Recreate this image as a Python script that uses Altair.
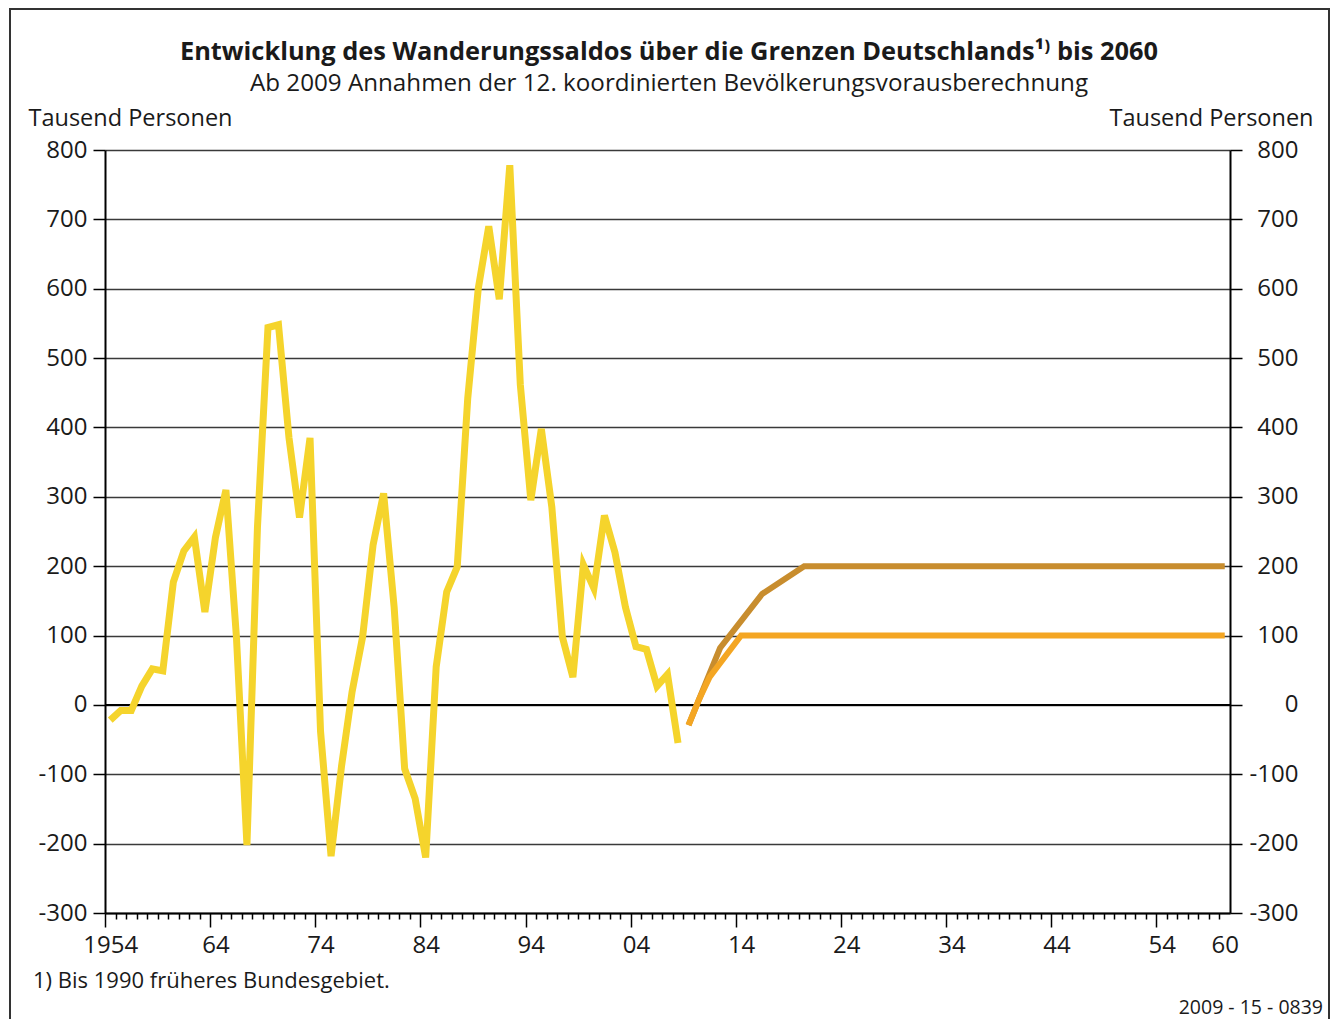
import altair as alt
import pandas as pd

# ---------------- data ----------------
hist_years = list(range(1954, 2009))
hist_values = [-22, -8, -8, 27, 52, 49, 177, 222, 242, 134, 241, 310, 98, -202,
               256, 544, 548, 385, 270, 385, -38, -218, -88, 19, 98, 231, 305,
               141, -92, -135, -220, 55, 163, 199, 442, 600, 690, 585, 778, 462,
               295, 398, 285, 98, 40, 202, 168, 273, 220, 141, 84, 80, 27, 44, -55]

w1_years = [2009, 2010, 2011, 2012, 2014, 2060]
w1_values = [-29, 8, 40, 60, 100, 100]

w2_years = [2009, 2010, 2011, 2012, 2016, 2020, 2060]
w2_values = [-29, 8, 45, 82, 160, 200, 200]

y_ticks = [-300, -200, -100, 0, 100, 200, 300, 400, 500, 600, 700, 800]
x_tick_years = list(range(1954, 2061))
x_major_years = [1954, 1964, 1974, 1984, 1994, 2004, 2014, 2024, 2034, 2044, 2054]
x_label_years = [1954, 1964, 1974, 1984, 1994, 2004, 2014, 2024, 2034, 2044, 2054, 2060]
x_label_texts = ["1954", "64", "74", "84", "94", "04", "14", "24", "34", "44", "54", "60"]

title_text = "Entwicklung des Wanderungssaldos über die Grenzen Deutschlands¹⁾ bis 2060"
subtitle_text = "Ab 2009 Annahmen der 12. koordinierten Bevölkerungsvorausberechnung"
axis_title = "Tausend Personen"
footnote_text = "1) Bis 1990 früheres Bundesgebiet."
code_text = "2009 - 15 - 0839"

YELLOW = "#F5D42C"
ORANGE = "#F4A623"
BROWN = "#C88D2E"
TEXT = "#1a1a1a"
FONT = "Open Sans"

# ---------------- layout ----------------
W, H = 1125, 763
half_band = W / 107 / 2

hist_df = pd.DataFrame({"year": hist_years, "value": hist_values})
w1_df = pd.DataFrame({"year": w1_years, "value": w1_values})
w2_df = pd.DataFrame({"year": w2_years, "value": w2_values})

label_expr = ""
for yr, txt in zip(x_label_years, x_label_texts):
    label_expr += f"datum.value == {yr} ? '{txt}' : "
label_expr += "''"
major_test = "indexof([" + ",".join(str(v) for v in x_major_years) + "], datum.value) >= 0"

x_axis = alt.Axis(
    values=x_tick_years,
    labelExpr=label_expr,
    tickOffset=-half_band,
    labelOffset=half_band,
    tickSize={"condition": {"test": major_test, "value": 14}, "value": 6},
    labelPadding={"condition": {"test": "datum.value == 2060", "value": 14}, "value": 6},
    tickColor="black",
    tickWidth=1.5,
    domainColor="black",
    domainWidth=2,
    labelFontSize=24,
    labelOverlap=False,
    labelFlush=False,
    grid=False,
    title=None,
)
x_enc = alt.X("year:Q", scale=alt.Scale(domain=[1953.5, 2060.5], nice=False, zero=False), axis=x_axis)

y_scale = alt.Scale(domain=[-300, 800], nice=False, zero=False)

left_axis = alt.Axis(
    values=y_ticks, grid=True, gridColor="#3a3a3a", gridWidth=1.4,
    labelExpr="toString(datum.value)",
    tickSize=12, tickColor="black", tickWidth=1.5,
    domainColor="black", domainWidth=2,
    labelFontSize=24, labelPadding=6,
    title=axis_title, titleAngle=0, titleAlign="left", titleBaseline="middle",
    titleX=-77, titleY=-32, titleFontSize=23.5, titleFontWeight="normal",
)
right_axis = alt.Axis(
    orient="right", values=y_ticks, grid=False,
    labelExpr="toString(datum.value)",
    tickSize=12, tickColor="black", tickWidth=1.5,
    domainColor="black", domainWidth=2,
    labelFontSize=24, labelPadding=56, labelAlign="right",
    title=axis_title, titleAngle=0, titleAlign="right", titleBaseline="middle",
    titleX=83, titleY=-32, titleFontSize=23.5, titleFontWeight="normal",
)

zero = alt.Chart(pd.DataFrame({"v": [0]})).mark_rule(color="black", strokeWidth=2).encode(
    y=alt.Y("v:Q", scale=y_scale, axis=None)
)

w2_line = alt.Chart(w2_df).mark_line(color=BROWN, strokeWidth=6, strokeJoin="miter").encode(
    x=x_enc, y=alt.Y("value:Q", scale=y_scale, axis=None)
)
w1_line = alt.Chart(w1_df).mark_line(color=ORANGE, strokeWidth=6, strokeJoin="miter").encode(
    x=x_enc, y=alt.Y("value:Q", scale=y_scale, axis=right_axis)
)
hist_line = alt.Chart(hist_df).mark_line(color=YELLOW, strokeWidth=7, strokeJoin="miter").encode(
    x=x_enc, y=alt.Y("value:Q", scale=y_scale, axis=left_axis)
)

one = alt.Data(values=[{}])
frame = alt.Chart(one).mark_rect(fillOpacity=0, stroke="#333333", strokeWidth=2).encode(
    x=alt.value(-95), x2=alt.value(1224), y=alt.value(-141), y2=alt.value(1000)
)
title = alt.Chart(one).mark_text(align="center", baseline="alphabetic", fontSize=25.4,
                                 fontWeight="bold", font=FONT, color=TEXT).encode(
    x=alt.value(564), y=alt.value(-90), text=alt.value(title_text)
)
subtitle = alt.Chart(one).mark_text(align="center", baseline="alphabetic", fontSize=24.2,
                                    font=FONT, color=TEXT).encode(
    x=alt.value(564), y=alt.value(-59), text=alt.value(subtitle_text)
)
footnote = alt.Chart(one).mark_text(align="left", baseline="middle", fontSize=22, font=FONT, color=TEXT).encode(
    x=alt.value(-72), y=alt.value(831), text=alt.value(footnote_text)
)
code = alt.Chart(one).mark_text(align="right", baseline="middle", fontSize=19.5, font=FONT, color=TEXT).encode(
    x=alt.value(1218), y=alt.value(858), text=alt.value(code_text)
)

chart = (
    alt.layer(zero, w2_line, w1_line, hist_line, frame, title, subtitle, footnote, code)
    .resolve_axis(y="independent")
    .properties(
        width=W, height=H,
        autosize=alt.AutoSizeParams(type="none"),
        padding={"left": 97, "top": 142, "right": 103, "bottom": 106},
    )
    .configure_view(stroke=None)
    .configure_axis(labelFont=FONT, titleFont=FONT, labelColor=TEXT, titleColor=TEXT)
)

chart.save("out.html", embed_options={"renderer": "svg", "actions": False})
